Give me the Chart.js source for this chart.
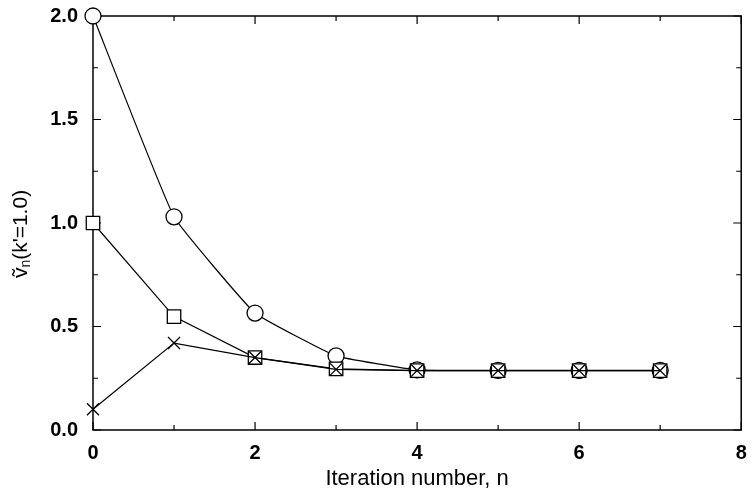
<!DOCTYPE html>
<html>
<head>
<meta charset="utf-8">
<script src="https://cdn.jsdelivr.net/npm/chart.js@4/dist/chart.umd.min.js"></script>
<style>
  body { margin: 0; background: #fff; }
  #wrap { width: 752px; height: 494px; }
</style>
</head>
<body>
<div id="wrap"><canvas id="chart" width="752" height="494"></canvas></div>
<script>
// iteration numbers and the three runs
var iterations = [0, 1, 2, 3, 4, 5, 6, 7];
var circleRun = [2.0, 1.03, 0.565, 0.358, 0.29, 0.288, 0.288, 0.288];
var squareRun = [1.0, 0.548, 0.35, 0.295, 0.287, 0.287, 0.287, 0.287];
var crossRun = [0.1, 0.42, 0.35, 0.293, 0.287, 0.287, 0.287, 0.287];

var xMajor = [0, 2, 4, 6, 8];
var xMinor = [1, 3, 5, 7];
var yMajor = [0, 0.5, 1.0, 1.5, 2.0];
var yMinor = [0.25, 0.75, 1.25, 1.75];

var xTitle = 'Iteration number, n';
var font = '"Liberation Sans", Arial, "DejaVu Sans", sans-serif';

function toPoints(vals) {
  var pts = [];
  for (i = 0; i < vals.length; i++) {
    pts.push({ x: iterations[i], y: vals[i] });
  }
  return pts;
}

// inward ticks on all four sides + the frame
var frameTicks = {
  id: 'frameTicks',
  beforeDatasetsDraw: function(chart) {
    var ctx = chart.ctx;
    var a = chart.chartArea;
    var xs = chart.scales.x, ys = chart.scales.y;
    ctx.save();
    ctx.strokeStyle = '#000';
    ctx.lineWidth = 1.5;
    ctx.strokeRect(a.left, a.top, a.right - a.left, a.bottom - a.top);
    ctx.lineWidth = 1.2;
    function xt(vals, len) {
      vals.forEach(function(v) {
        var p = xs.getPixelForValue(v);
        ctx.beginPath();
        ctx.moveTo(p, a.bottom); ctx.lineTo(p, a.bottom - len);
        ctx.moveTo(p, a.top); ctx.lineTo(p, a.top + len);
        ctx.stroke();
      });
    }
    function yt(vals, len) {
      vals.forEach(function(v) {
        var p = ys.getPixelForValue(v);
        ctx.beginPath();
        ctx.moveTo(a.left, p); ctx.lineTo(a.left + len, p);
        ctx.moveTo(a.right, p); ctx.lineTo(a.right - len, p);
        ctx.stroke();
      });
    }
    xt(xMajor, 8); xt(xMinor, 5);
    yt(yMajor, 8); yt(yMinor, 5);
    ctx.restore();
  }
};

// rotated y title with subscript n
var yTitle = {
  id: 'yTitle',
  afterDraw: function(chart) {
    var ctx = chart.ctx;
    var big = '21px ' + font, small = '14px ' + font;
    ctx.save();
    ctx.fillStyle = '#000';
    ctx.textBaseline = 'middle';
    ctx.translate(21, 234);
    ctx.rotate(-Math.PI / 2);
    ctx.font = big;
    var w1 = ctx.measureText('\u1E7D').width;
    var w3 = ctx.measureText("(k'=1.0)").width;
    ctx.font = small;
    var w2 = ctx.measureText('n').width;
    var x = -(w1 + w2 + w3) / 2;
    ctx.font = big;
    ctx.fillText('\u1E7D', x, 0);
    ctx.font = small;
    ctx.fillText('n', x + w1, 5);
    ctx.font = big;
    ctx.fillText("(k'=1.0)", x + w1 + w2, 0);
    ctx.restore();
  }
};

var ctx = document.getElementById('chart').getContext('2d');
var chart = new Chart(ctx, {
  type: 'line',
  data: {
    datasets: [{
      data: toPoints(crossRun),
      pointStyle: 'crossRot',
      pointRadius: 8.5,
      borderColor: '#000',
      pointBorderColor: '#000',
      borderWidth: 1.2,
      pointBorderWidth: 1.3,
      clip: false,
      order: 1
    }, {
      data: toPoints(squareRun),
      pointStyle: 'rect',
      pointRadius: 9.5,
      borderColor: '#000',
      pointBorderColor: '#000',
      pointBackgroundColor: '#fff',
      borderWidth: 1.2,
      pointBorderWidth: 1.3,
      clip: false,
      order: 2
    }, {
      data: toPoints(circleRun),
      pointStyle: 'circle',
      pointRadius: 8,
      borderColor: '#000',
      pointBorderColor: '#000',
      pointBackgroundColor: '#fff',
      borderWidth: 1.2,
      pointBorderWidth: 1.3,
      tension: 0.1,
      clip: false,
      order: 3
    }]
  },
  options: {
    responsive: false,
    animation: false,
    layout: { padding: { top: 16, right: 10, left: 0, bottom: 0 } },
    plugins: { legend: { display: false }, tooltip: { enabled: false } },
    scales: {
      x: {
        type: 'linear',
        min: 0, max: 8,
        grid: { display: false, drawTicks: false },
        border: { display: false },
        ticks: { stepSize: 2, padding: 11, color: '#000', font: { family: font, size: 20, weight: 'bold' } },
        title: { display: true, text: xTitle, color: '#000', padding: { top: 2, bottom: 2 }, font: { family: font, size: 22 } },
        afterFit: function(s) { s.height = 64; s.paddingLeft = 0; s.paddingRight = 0; }
      },
      y: {
        min: 0, max: 2,
        grid: { display: false, drawTicks: false },
        border: { display: false },
        ticks: {
          stepSize: 0.5, padding: 15, color: '#000',
          font: { family: font, size: 20, weight: 'bold' },
          callback: function(v) { return v.toFixed(1); }
        },
        afterFit: function(s) { s.width = 93; s.paddingTop = 0; s.paddingBottom = 0; }
      }
    }
  },
  plugins: [frameTicks, yTitle]
});
</script>
</body>
</html>
